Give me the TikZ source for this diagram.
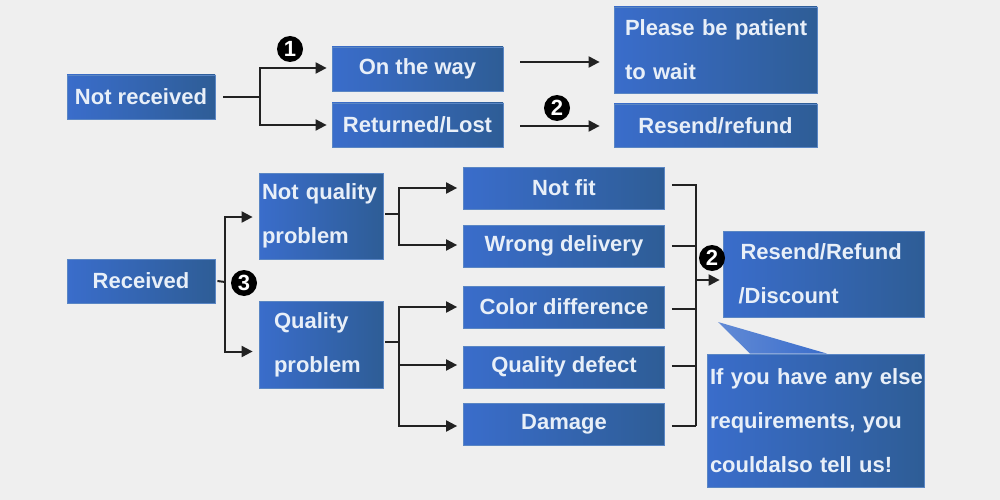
\documentclass[tikz,border=0pt]{standalone}
\usepackage{fontspec}
\setmainfont{Liberation Sans}
\usetikzlibrary{arrows.meta,calc}
\definecolor{bgc}{HTML}{EFEFEF}
\definecolor{bl}{HTML}{3A6DCB}
\definecolor{br}{HTML}{2E5D96}
\definecolor{bedge}{HTML}{5A86C4}
\definecolor{txt}{HTML}{E8EFF8}
\definecolor{ln}{HTML}{222222}
\tikzset{
  box/.style={rectangle, left color=bl, right color=br, draw=bedge, line width=0.8pt,
    text=txt, font=\fontsize{22}{44}\selectfont\bfseries, inner sep=0pt, anchor=center},
  mbox/.style={box, align=left},
  conn/.style={draw=ln, line width=2pt},
  arr/.style={conn, -{Triangle[length=11pt,width=11pt]}},
  num/.style={circle, fill=black, text=white, inner sep=0pt, minimum size=26pt,
    font=\fontsize{22}{22}\selectfont\bfseries}
}
\begin{document}
\begin{tikzpicture}[x=1pt,y=-1pt]
\fill[bgc] (0,0) rectangle (1000,500);
\useasboundingbox (0,0) rectangle (1000,500);
% top part
\node[box, minimum width=148pt, minimum height=44pt] (nr) at (141,97) {Not received};
\node[box, minimum width=171pt, minimum height=44pt] (otw) at (417.5,69) {On the way};
\node[box, minimum width=171pt, minimum height=44pt] (rl) at (417.5,125) {Returned/Lost};
\node[mbox, text width=181pt, inner xsep=11pt, minimum height=86pt] (pat) at (715.5,50) {\mbox{Please be patient}\\\mbox{to wait}};
\node[box, minimum width=203pt, minimum height=43pt] (rr) at (715.5,125.5) {Resend/refund};
\coordinate (j1) at (260,97);
\draw[conn] ([xshift=8pt]nr.east) -- (j1);
\draw[arr, shorten >=5pt] (j1) |- ([yshift=1pt]otw.west);
\draw[arr, shorten >=5pt] (j1) |- (rl.west);
\draw[arr, shorten >=14pt] ([xshift=17pt,yshift=7pt]otw.east) -- ([yshift=7pt]otw.east -| pat.west);
\draw[arr, shorten >=14pt] ([xshift=17pt,yshift=-1pt]rl.east) -- ([yshift=-1pt]rl.east -| rr.west);
\node[num] (n1) at (290,49) {1};
\node[num] (n2a) at (557,108) {2};
% bottom part
\node[box, minimum width=148pt, minimum height=44pt] (rec) at (141,281) {Received};
\node[mbox, text width=118pt, inner xsep=3pt, minimum height=86pt] (nq) at (321,216) {\mbox{Not quality}\\\mbox{problem}};
\node[mbox, text width=94pt, inner xsep=15pt, minimum height=87pt] (q) at (321,344.5) {\mbox{Quality}\\\mbox{problem}};
\node[box, minimum width=201pt, minimum height=42pt] (nf) at (564,188) {Not fit};
\node[box, minimum width=201pt, minimum height=42pt] (wd) at (564,246) {Wrong delivery};
\node[box, minimum width=201pt, minimum height=42pt] (cd) at (564,307) {Color difference};
\node[box, minimum width=201pt, minimum height=42pt] (qd) at (564,367) {Quality defect};
\node[box, minimum width=201pt, minimum height=42pt] (dm) at (564,424) {Damage};
\node[mbox, text width=184pt, inner xsep=8.5pt, minimum height=86pt] (rd) at (823.5,274) {\hspace*{9pt}\mbox{Resend/Refund}\\\hspace*{7pt}\mbox{/Discount}};
% junctions
\coordinate (j3) at (225,282);
\draw[conn] ([xshift=2pt]rec.east) -- (j3);
\draw[arr, shorten >=6pt] (j3) |- ([yshift=-1pt]nq.west);
\draw[arr, shorten >=6pt] (j3) |- ([yshift=-7pt]q.west);
\node[num] (n3) at (244,283) {3};
\coordinate (j4) at (399,214);
\draw[conn] ([xshift=2pt,yshift=2pt]nq.east) -- (j4);
\draw[arr, shorten >=6pt] (j4) |- (nf.west);
\draw[arr, shorten >=6pt] (j4) |- ([yshift=1pt]wd.west);
\coordinate (j5) at (399,342);
\draw[conn] ([xshift=2pt,yshift=2.5pt]q.east) -- (j5);
\draw[arr, shorten >=6pt] (j5) |- (cd.west);
\draw[arr, shorten >=6pt] (j5) |- ([yshift=2pt]qd.west);
\draw[arr, shorten >=6pt] (j5) |- ([yshift=-2pt]dm.west);
% right bracket
\coordinate (bt) at (696,185);
\coordinate (bb) at (696,426);
\coordinate (bm) at (696,280);
\draw[conn] ([xshift=7pt,yshift=3pt]nf.east) -- (bt) -- (bb);
\draw[conn] ([xshift=7pt]wd.east) -- (wd.east -| bm);
\draw[conn] ([xshift=7pt,yshift=-2pt]cd.east) -- ([yshift=-2pt]cd.east -| bm);
\draw[conn] ([xshift=7pt,yshift=1pt]qd.east) -- ([yshift=1pt]qd.east -| bm);
\draw[conn] ([xshift=7pt,yshift=-2pt]dm.east) -- (bb);
\draw[arr, shorten >=3pt] (bm) -- (bm -| rd.west);
\node[num] (n2b) at (712,258) {2};
% callout
\node[mbox, text width=211pt, inner xsep=3pt, minimum height=133pt] (cb) at (815.5,420.5) {\mbox{If you have any else}\\\mbox{requirements, you}\\\mbox{couldalso tell us!}};
\shade[left color=bl!80!white, right color=bl] (cb.north west -| 750,0) -- (718,322) -- (cb.north west -| 827,0) -- cycle;
\end{tikzpicture}
\end{document}
